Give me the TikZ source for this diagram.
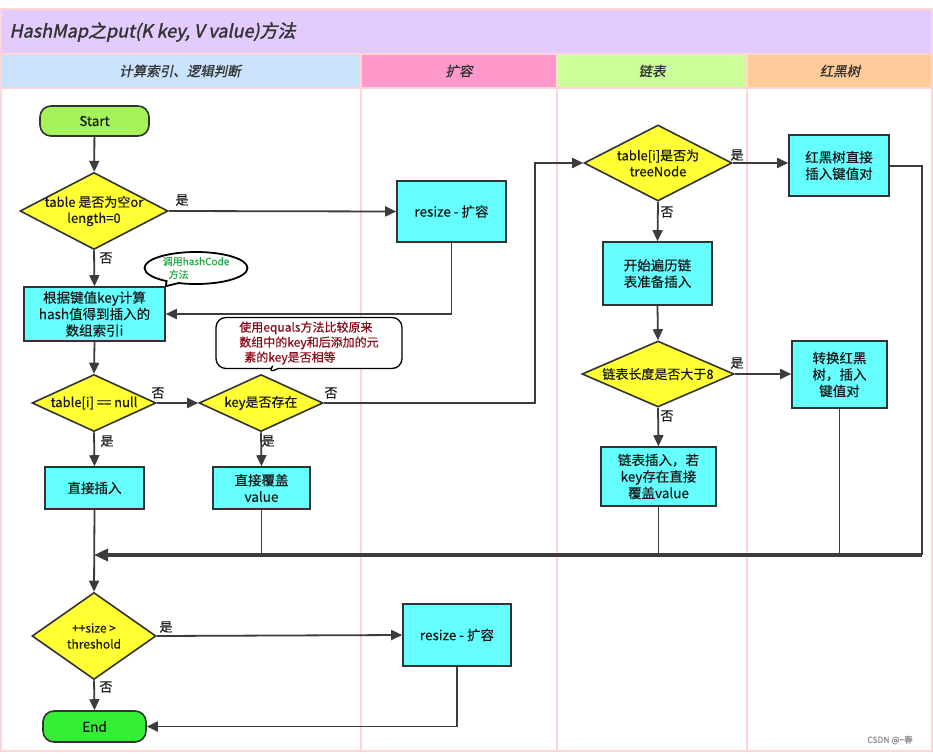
\documentclass[tikz,border=0pt]{standalone}
\usepackage{fontspec}
\setmainfont{Noto Sans CJK SC}[FakeBold=0.4]
\newfontfamily\slfont{Noto Sans CJK SC}[FakeSlant=0.2,FakeBold=0.8]
\newfontfamily\titfont{Noto Sans CJK SC}[FakeSlant=0.2,FakeBold=1.8]
\usetikzlibrary{shapes.geometric,shapes.callouts,arrows.meta}
\definecolor{lane}{HTML}{FFD6D6}
\definecolor{purp}{HTML}{E3CCFD}
\definecolor{hA}{HTML}{C9E3FC}
\definecolor{hB}{HTML}{FF99CC}
\definecolor{hC}{HTML}{CCFF99}
\definecolor{hD}{HTML}{FFCC99}
\definecolor{cyanf}{HTML}{66FFFF}
\definecolor{yel}{HTML}{FFFF33}
\definecolor{startc}{HTML}{A6F25A}
\definecolor{endc}{HTML}{33EE33}
\definecolor{bd}{HTML}{333333}
\definecolor{ar}{HTML}{3C3C3C}
\definecolor{txt}{HTML}{1A1A1A}
\definecolor{hcol}{HTML}{22AA44}
\definecolor{ecol}{HTML}{8B0A1A}
\begin{document}
\begin{tikzpicture}[x=1pt,y=-1pt,
  every node/.style={font=\fontsize{13.5}{16.5}\selectfont, text=txt},
  box/.style={draw=bd, line width=1.6pt, fill=cyanf, align=center, inner sep=0pt},
  dia/.style={diamond, draw=bd, line width=1.6pt, fill=yel, inner sep=0pt},
  dtext/.style={align=center, font=\fontsize{13}{16}\selectfont, text=txt},
  term/.style={draw=bd, line width=1.6pt, rounded corners=11pt, align=center, inner sep=0pt},
  arr/.style={draw=ar, line width=1.8pt, -{Triangle[length=11pt,width=10pt]}},
  ln/.style={draw=ar, line width=1.8pt},
  yn/.style={font=\fontsize{13}{13}\selectfont, text=txt},
  hd/.style={font=\slfont\fontsize{13.5}{14}\selectfont, text=bd},
  lanel/.style={draw=lane, line width=1.5pt}
]
% background and frame
\fill[white] (0,0) rectangle (933,754);
\path[use as bounding box] (0,0) rectangle (933,754);
\filldraw[fill=purp, lanel] (1,9) rectangle (932,54);
\filldraw[fill=hA, lanel] (1,54) rectangle (361,88);
\filldraw[fill=hB, lanel] (361,54) rectangle (557,88);
\filldraw[fill=hC, lanel] (557,54) rectangle (747,88);
\filldraw[fill=hD, lanel] (747,54) rectangle (932,88);
\draw[lanel] (1,88) -- (1,751) -- (932,751) -- (932,88);
\draw[lanel] (361,88) -- (361,751);
\draw[lanel] (557,88) -- (557,751);
\draw[lanel] (747,88) -- (747,751);

\node[anchor=west, font=\titfont\fontsize{18}{20}\selectfont, text=bd] (title) at (6,32) {HashMap之put(K key, V value)方法};
\node[hd] (h1) at (180,71) {计算索引、逻辑判断};
\node[hd] (h2) at (459,71) {扩容};
\node[hd] (h3) at (652,71) {链表};
\node[hd] (h4) at (840,71) {红黑树};

% nodes
\node[term, fill=startc, minimum width=109pt, minimum height=30pt] (start) at (94.5,121) {Start};
\node[dia, minimum width=148pt, minimum height=77pt, label={[dtext]center:{table 是否为空or\\length=0}}] (d1) at (94,211) {};
\node[box, minimum width=109pt, minimum height=61pt] (r1) at (451.5,211.5) {resize - 扩容};
\node[box, minimum width=141pt, minimum height=54pt] (hb) at (94.5,314) {根据键值key计算\\hash值得到插入的\\数组索引i};
\node[dia, minimum width=124pt, minimum height=57pt, label={[dtext]center:{table[i] == null}}] (d2) at (94,403) {};
\node[dia, minimum width=124pt, minimum height=57pt, label={[dtext]center:{key是否存在}}] (d3) at (261,403) {};
\node[box, minimum width=99pt, minimum height=42pt] (ins) at (94.5,488) {直接插入};
\node[box, minimum width=97pt, minimum height=42pt] (cov) at (261.5,488) {直接覆盖\\value};
\node[dia, minimum width=148pt, minimum height=76pt, label={[dtext]center:{table[i]是否为\\treeNode}}] (d4) at (658,163) {};
\node[box, minimum width=100pt, minimum height=61pt] (rb1) at (839,165.5) {红黑树直接\\插入键值对};
\node[box, minimum width=109pt, minimum height=63pt] (l1) at (657.5,273.5) {开始遍历链\\表准备插入};
\node[dia, minimum width=152pt, minimum height=66pt, label={[dtext]center:{链表长度是否大于8}}] (d5) at (658,374) {};
\node[box, minimum width=95pt, minimum height=67pt] (rb2) at (839.5,374.5) {转换红黑\\树，插入\\键值对};
\node[box, minimum width=115pt, minimum height=59pt] (l2) at (658.5,476.5) {链表插入，若\\key存在直接\\覆盖value};
\node[dia, minimum width=124pt, minimum height=87pt, label={[dtext, font=\fontsize{12}{16}\selectfont]center:{++size >\\threshold}}] (d6) at (94,636) {};
\node[box, minimum width=108pt, minimum height=62pt] (r2) at (457,635) {resize - 扩容};
\node[term, fill=endc, minimum width=103pt, minimum height=31pt] (end) at (94.5,726.5) {End};

% callouts
\node[ellipse callout, draw=black, line width=1.8pt, fill=white, minimum width=103pt, minimum height=32pt, inner sep=0pt,
  callout absolute pointer={(hb.north east)},
  label={[align=left, font=\fontsize{10}{13}\selectfont, text=hcol]center:{调用hashCode\\\hspace{6pt}方法}}] (c1) at (196,268) {};
\node[rectangle callout, draw=black, line width=1.3pt, fill=white, rounded corners=10pt, minimum width=186pt, minimum height=51pt, inner sep=0pt,
  callout absolute pointer={(267,374)},
  label={[align=left, font=\fontsize{12}{15}\selectfont, text=ecol]center:{使用equals方法比较原来\\数组中的key和后添加的元\\\hspace{5pt}素的key是否相等}}] (c2) at (309,343) {};

% coordinates
\coordinate (jx) at (535,403);
\coordinate (rx) at (922,166);
\coordinate (mr) at (922,555);
\coordinate (m) at (94,555);

% connectors
\draw[arr] (start) -- (d1);
\draw[arr] (d1.east) -- (r1.west);
\draw[arr] (d1.south) -- (hb.north);
\draw[arr] (r1.south) |- (hb.east);
\draw[arr] (hb.south) -- (d2.north);
\draw[arr] (d2.east) -- (d3.west);
\draw[arr] (d2.south) -- (ins.north);
\draw[arr] (d3.south) -- (cov.north);
\draw[arr] (d3.east) -- (jx) |- (d4.west);
\draw[arr] (d4.east) -- (d4.east -| rb1.west);
\draw[arr] (d4.south) -- (l1.north);
\draw[arr] (l1.south) -- (d5.north);
\draw[arr] (d5.east) -- (d5.east -| rb2.west);
\draw[arr] (d5.south) -- (l2.north);
\draw[ln] (rb1.east |- rx) -- (rx) -- (mr);
\draw[ln] (rb2.south) -- (rb2.south |- mr);
\draw[ln] (l2.south) -- (l2.south |- mr);
\draw[ln] (cov.south) -- (cov.south |- m);
\draw[draw=ar, line width=3.5pt, -{Triangle[length=14pt,width=12pt]}] (mr) -- (m);
\draw[arr] (ins.south) -- (d6.north);
\draw[arr] (d6.east) -- (r2.west);
\draw[arr] (d6.south) -- (end.north);
\draw[arr] (r2.south) |- (end.east);

% yes/no labels
\node[yn] (y1) at (182,200) {是};
\node[yn] (n1) at (106,258) {否};
\node[yn] (n2) at (158,393) {否};
\node[yn] (y2) at (107,441) {是};
\node[yn] (n3) at (331,393) {否};
\node[yn] (y3) at (268,441) {是};
\node[yn] (y4) at (737,155) {是};
\node[yn] (n4) at (667,212) {否};
\node[yn] (y5) at (737,363) {是};
\node[yn] (n5) at (667,416) {否};
\node[yn] (y6) at (166,627) {是};
\node[yn] (n6) at (106,687) {否};

\node[font=\fontsize{8.5}{9}\selectfont, text=black!45] (wm) at (890,740) {CSDN @\textasciitilde 春};
\end{tikzpicture}
\end{document}
